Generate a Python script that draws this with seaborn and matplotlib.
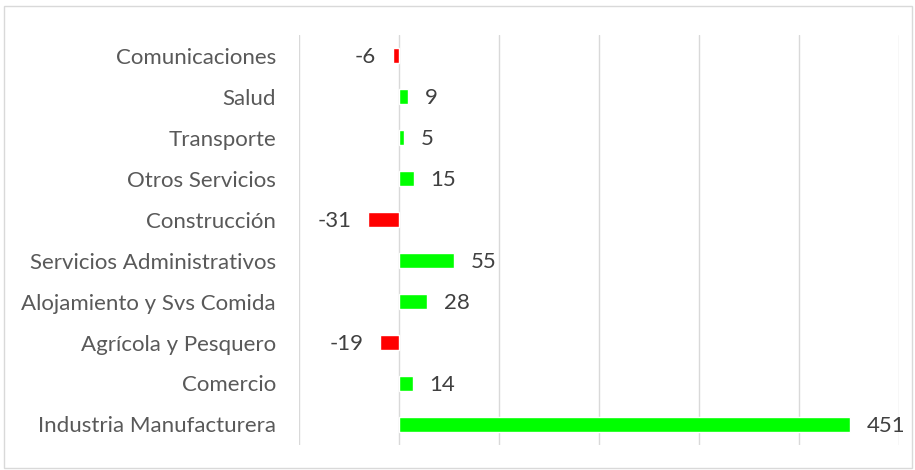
import numpy as np
import pandas as pd
import matplotlib
matplotlib.use("Agg")
import matplotlib.pyplot as plt
import seaborn as sns
from matplotlib.patches import Rectangle

# Data (top to bottom as shown)
sectores = ["Comunicaciones", "Salud", "Transporte", "Otros Servicios", "Construcción",
            "Servicios Administrativos", "Alojamiento y Svs Comida", "Agrícola y Pesquero",
            "Comercio", "Industria Manufacturera"]
valores = [-6, 9, 5, 15, -31, 55, 28, -19, 14, 451]

df = pd.DataFrame({"sector": sectores, "valor": valores})
colores = ["#ff0000" if v < 0 else "#00ff00" for v in valores]

sns.set_style("white")
plt.rcParams['font.family'] = ['Lato', 'DejaVu Sans']
fs = 16

fig = plt.figure(figsize=(9.15, 4.7), dpi=100)
ax = fig.add_axes([0.3268, 0.0532, 0.6557, 0.8723])

sns.barplot(data=df, x="valor", y="sector", hue="sector", palette=colores,
            legend=False, width=0.37, ax=ax, saturation=1)

ax.set_xlim(-100, 500)
ax.set_xticks(np.arange(-100, 501, 100))
ax.set_xticklabels([])
ax.tick_params(axis="x", length=0)
ax.tick_params(axis="y", length=0, pad=16.5, labelsize=fs, labelcolor="#595959")
ax.grid(axis="x", color="#d9d9d9", linewidth=1)
ax.set_axisbelow(True)
for s in ax.spines.values():
    s.set_visible(False)
ax.set_xlabel("")
ax.set_ylabel("")

for i, v in enumerate(valores):
    if v < 0:
        ax.annotate(str(v), (v, i), xytext=(-12, -1), textcoords="offset points",
                    ha="right", va="center", fontsize=fs, color="#404040")
    else:
        ax.annotate(str(v), (v, i), xytext=(12, -1), textcoords="offset points",
                    ha="left", va="center", fontsize=fs, color="#404040")

fig.patches.append(Rectangle((4 / 915, 2 / 470), 908 / 915, 462 / 470,
                             transform=fig.transFigure, fill=False,
                             edgecolor="#d9d9d9", linewidth=1))

fig.savefig("out.png", dpi=100)
